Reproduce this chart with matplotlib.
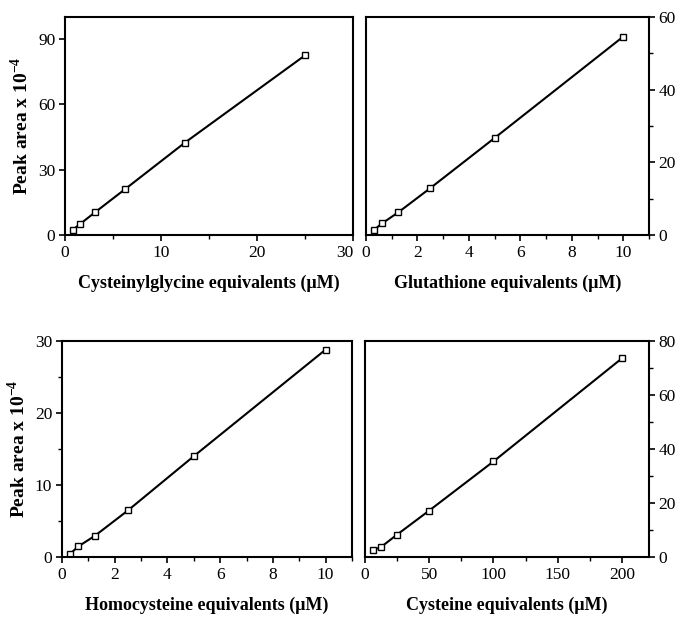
import matplotlib
matplotlib.use("Agg")
import matplotlib.pyplot as plt
from matplotlib.ticker import MultipleLocator

plt.rcParams['font.family'] = ['Liberation Serif', 'DejaVu Serif']
plt.rcParams['mathtext.fontset'] = 'custom'
plt.rcParams['mathtext.rm'] = 'Liberation Serif'
plt.rcParams['mathtext.bf'] = 'Liberation Serif:bold'

# Data
cysgly_x = [0.78, 1.56, 3.125, 6.25, 12.5, 25]
cysgly_y = [2.3, 5.0, 10.4, 21.0, 42.4, 82.4]

gsh_x = [0.3125, 0.625, 1.25, 2.5, 5, 10]
gsh_y = [1.4, 3.2, 6.2, 12.9, 26.7, 54.6]

hcy_x = [0.3125, 0.625, 1.25, 2.5, 5, 10]
hcy_y = [0.46, 1.48, 2.95, 6.46, 14.0, 28.8]

cys_x = [6.25, 12.5, 25, 50, 100, 200]
cys_y = [2.5, 3.7, 8.3, 17.2, 35.4, 73.6]

xlabels = ["Cysteinylglycine equivalents (μM)", "Glutathione equivalents (μM)",
           "Homocysteine equivalents (μM)", "Cysteine equivalents (μM)"]
ylabel = r"Peak area x 10$^{\mathbf{-4}}$"

fig = plt.figure(figsize=(6.78, 6.2), dpi=100)

panels = [
    dict(pos=[0.0959, 0.6210, 0.4248, 0.3516], x=cysgly_x, y=cysgly_y,
         xlim=(0, 30), ylim=(0, 100), xmaj=10, xmin=5, ymaj=30, ymin=None,
         right=False, xl=xlabels[0]),
    dict(pos=[0.5398, 0.6210, 0.4174, 0.3516], x=gsh_x, y=gsh_y,
         xlim=(0, 11), ylim=(0, 60), xmaj=2, xmin=1, ymaj=20, ymin=10,
         right=True, xl=xlabels[1]),
    dict(pos=[0.0914, 0.1016, 0.4277, 0.3484], x=hcy_x, y=hcy_y,
         xlim=(0, 11), ylim=(0, 30), xmaj=2, xmin=1, ymaj=10, ymin=5,
         right=False, xl=xlabels[2]),
    dict(pos=[0.5383, 0.1016, 0.4189, 0.3484], x=cys_x, y=cys_y,
         xlim=(0, 221), ylim=(0, 80), xmaj=50, xmin=25, ymaj=20, ymin=10,
         right=True, xl=xlabels[3]),
]

axes = []
for p in panels:
    ax = fig.add_axes(p['pos'])
    ax.plot(p['x'], p['y'], color='black', lw=1.5, marker='s', ms=5,
            mfc='white', mec='black', mew=1.0)
    ax.set_xlim(*p['xlim'])
    ax.set_ylim(*p['ylim'])
    ax.xaxis.set_major_locator(MultipleLocator(p['xmaj']))
    ax.xaxis.set_minor_locator(MultipleLocator(p['xmin']))
    ax.yaxis.set_major_locator(MultipleLocator(p['ymaj']))
    if p['ymin']:
        ax.yaxis.set_minor_locator(MultipleLocator(p['ymin']))
    for s in ax.spines.values():
        s.set_linewidth(1.5)
    ax.tick_params(which='major', direction='out', length=4, width=1.2,
                   labelsize=12.5, pad=3)
    ax.tick_params(which='minor', direction='out', length=3, width=1.0)
    if p['right']:
        ax.yaxis.tick_right()
        ax.yaxis.set_label_position('right')
    else:
        ax.set_ylabel(ylabel, fontsize=14, fontweight='bold', labelpad=4)
    ax.set_xlabel(p['xl'], fontsize=13, fontweight='bold', labelpad=10)
    axes.append(ax)

# shift the last x tick label of the first panel so it does not collide
fig.canvas.draw()
for lbl in axes[0].get_xticklabels():
    if lbl.get_text() == '30':
        lbl.set_horizontalalignment('right')

fig.savefig("out.png", dpi=100)
